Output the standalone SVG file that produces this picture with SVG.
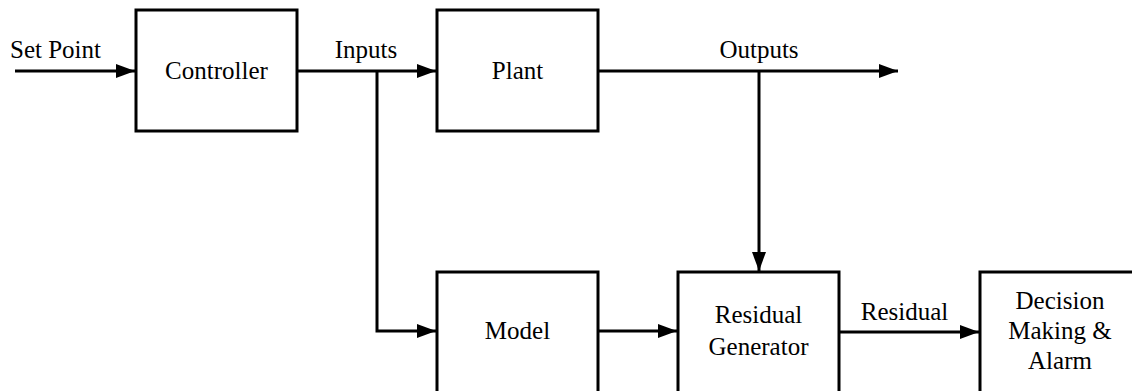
<svg xmlns="http://www.w3.org/2000/svg" width="1132" height="391" viewBox="0 0 1132 391">
  <style>
    .box { fill: #ffffff; stroke: #000000; stroke-width: 3; }
    .wire { fill: none; stroke: #000000; stroke-width: 3; }
    .lbl { font-family: 'Liberation Serif', 'Times New Roman', Times, serif; font-size: 25px; fill: #000000; text-anchor: middle; }
  </style>
  <defs>
    <marker id="arr" markerUnits="userSpaceOnUse" markerWidth="20" markerHeight="14" refX="19" refY="7" orient="auto">
      <path d="M0,0 L19,7 L0,14 z" fill="#000000"/>
    </marker>
  </defs>
  <rect width="1132" height="391" fill="#ffffff"/>

  <g id="connectors">
    <path class="wire" d="M15,71 H135" marker-end="url(#arr)"/>
    <path class="wire" d="M297,71 H436" marker-end="url(#arr)"/>
    <path class="wire" d="M377,71 V331 H436" marker-end="url(#arr)"/>
    <path class="wire" d="M598,71 H898" marker-end="url(#arr)"/>
    <path class="wire" d="M759,71 V271" marker-end="url(#arr)"/>
    <path class="wire" d="M598,331 H677" marker-end="url(#arr)"/>
    <path class="wire" d="M839,332 H979" marker-end="url(#arr)"/>
    <text class="lbl" x="55.5" y="58">Set Point</text>
    <text class="lbl" x="366" y="58">Inputs</text>
    <text class="lbl" x="759" y="58">Outputs</text>
    <text class="lbl" x="904.5" y="320">Residual</text>
  </g>

  <g id="controller">
    <rect class="box" x="136" y="10" width="161" height="121"/>
    <text class="lbl" x="216.5" y="79">Controller</text>
  </g>
  <g id="plant">
    <rect class="box" x="437" y="10" width="161" height="121"/>
    <text class="lbl" x="517.5" y="79">Plant</text>
  </g>
  <g id="model">
    <rect class="box" x="437" y="272" width="161" height="130"/>
    <text class="lbl" x="517.5" y="339">Model</text>
  </g>
  <g id="residual-generator">
    <rect class="box" x="678" y="272" width="161" height="130"/>
    <text class="lbl" x="758.5" y="323">Residual</text>
    <text class="lbl" x="758.5" y="355">Generator</text>
  </g>
  <g id="decision">
    <rect class="box" x="980" y="272" width="161" height="130"/>
    <text class="lbl" x="1060" y="309">Decision</text>
    <text class="lbl" x="1060" y="339">Making &amp;</text>
    <text class="lbl" x="1060" y="369">Alarm</text>
  </g>
</svg>
